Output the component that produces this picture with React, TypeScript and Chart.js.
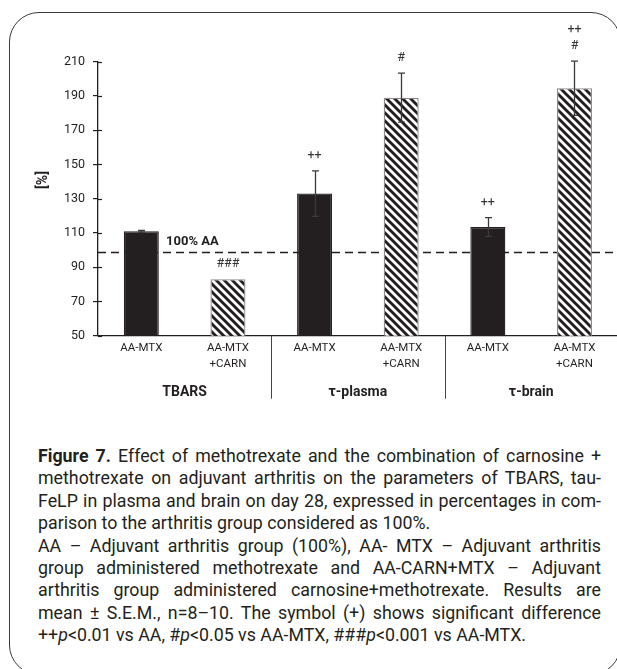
import React, { useEffect, useRef } from "react";
import { Chart, registerables } from "chart.js";

Chart.register(...registerables);

// ---- data ----
const categories: string[][] = [
  ["AA-MTX"],
  ["AA-MTX", "+CARN"],
  ["AA-MTX"],
  ["AA-MTX", "+CARN"],
  ["AA-MTX"],
  ["AA-MTX", "+CARN"],
];
const values = [111, 83, 133, 189, 113.5, 194.5];
const errors = [0.5, 0, 13.3, 14.3, 5.5, 15.8];
const markers: string[][] = [[], ["###"], ["++"], ["#"], ["++"], ["++", "#"]];
const groups = ["TBARS", "τ-plasma", "τ-brain"];
const yMin = 50;
const yMax = 210;
const yStep = 20;
const referenceValue = 98.8;
const referenceLabel = "100% AA";
const yTitle = "[%]";

const INK = "#231f20";
const FONT = "Roboto, 'Open Sans', sans-serif";

function makeHatch(): CanvasPattern | string {
  const c = document.createElement("canvas");
  const s = 8;
  c.width = s;
  c.height = s;
  const g = c.getContext("2d");
  if (!g) return "#fff";
  g.fillStyle = "#fff";
  g.fillRect(0, 0, s, s);
  g.strokeStyle = INK;
  g.lineWidth = 2.9;
  for (let k = -1; k <= 1; k++) {
    g.beginPath();
    g.moveTo(-s, -s + k * s);
    g.lineTo(2 * s, 2 * s + k * s);
    g.stroke();
  }
  return g.createPattern(c, "repeat") || "#fff";
}

const overlay = {
  id: "overlay",
  beforeDatasetsDraw(chart: any) {
    const { ctx, chartArea: a, scales } = chart;
    const py = Math.round(scales.y.getPixelForValue(referenceValue)) + 0.5;
    ctx.save();
    ctx.strokeStyle = INK;
    ctx.lineWidth = 1.5;
    ctx.setLineDash([8, 5]);
    ctx.beginPath();
    ctx.moveTo(a.left, py);
    ctx.lineTo(a.right, py);
    ctx.stroke();
    ctx.setLineDash([]);
    ctx.fillStyle = INK;
    ctx.font = `bold 13px ${FONT}`;
    ctx.textAlign = "left";
    ctx.textBaseline = "alphabetic";
    ctx.fillText(referenceLabel, a.left + 68, py - 8);
    ctx.restore();
  },
  afterDatasetsDraw(chart: any) {
    const { ctx, scales } = chart;
    const y = scales.y;
    const meta = chart.getDatasetMeta(0);
    ctx.save();
    meta.data.forEach((bar: any, i: number) => {
      const x = Math.round(bar.x) + 0.5;
      const top = y.getPixelForValue(values[i] + errors[i]);
      const bot = y.getPixelForValue(values[i] - errors[i]);
      ctx.strokeStyle = "#3a3a3a";
      ctx.lineWidth = 1.3;
      if (errors[i] > 0) {
        ctx.beginPath();
        ctx.moveTo(x, top);
        ctx.lineTo(x, bot);
        ctx.moveTo(x - 3.5, top);
        ctx.lineTo(x + 3.5, top);
        ctx.moveTo(x - 3.5, bot);
        ctx.lineTo(x + 3.5, bot);
        ctx.stroke();
      }
      const m = markers[i];
      ctx.fillStyle = "#333";
      ctx.font = `12.5px ${FONT}`;
      ctx.textAlign = "center";
      ctx.textBaseline = "middle";
      for (let k = 0; k < m.length; k++) {
        const line = m[m.length - 1 - k];
        ctx.fillText(line, bar.x, top - 15 - k * 16);
      }
    });
    ctx.restore();
  },
  afterDraw(chart: any) {
    const { ctx, chartArea: a, scales } = chart;
    const x = scales.x;
    const y = scales.y;
    ctx.save();
    ctx.strokeStyle = INK;
    ctx.lineWidth = 1.2;
    for (let v = yMin; v <= yMax; v += yStep) {
      const py = Math.round(y.getPixelForValue(v)) + 0.5;
      ctx.beginPath();
      ctx.moveTo(a.left, py);
      ctx.lineTo(a.left + 4, py);
      ctx.stroke();
    }
    ctx.strokeStyle = "#444";
    ctx.lineWidth = 1;
    for (let gi = 1; gi < groups.length; gi++) {
      const px = Math.round((x.getPixelForValue(gi * 2 - 1) + x.getPixelForValue(gi * 2)) / 2) + 0.5;
      ctx.beginPath();
      ctx.moveTo(px, a.bottom);
      ctx.lineTo(px, a.bottom + 63);
      ctx.stroke();
    }
    ctx.fillStyle = INK;
    ctx.font = `bold 14px ${FONT}`;
    ctx.textAlign = "center";
    ctx.textBaseline = "middle";
    groups.forEach((g, gi) => {
      const cx = (x.getPixelForValue(gi * 2) + x.getPixelForValue(gi * 2 + 1)) / 2;
      ctx.fillText(g, cx, a.bottom + 57);
    });
    ctx.translate(43, 180);
    ctx.rotate(-Math.PI / 2);
    ctx.font = `bold 14px ${FONT}`;
    ctx.fillText(yTitle, 0, 0);
    ctx.restore();
  },
};

function ChartCanvas() {
  const ref = useRef<HTMLCanvasElement | null>(null);
  useEffect(() => {
    if (!ref.current) return;
    const hatch = makeHatch();
    const chart = new Chart(ref.current, {
      type: "bar",
      data: {
        labels: categories,
        datasets: [
          {
            data: values,
            backgroundColor: values.map((_, i) => (i % 2 === 0 ? INK : hatch)) as any,
            borderColor: values.map((_, i) => (i % 2 === 0 ? INK : "#8a8a8a")),
            borderWidth: 1.3,
            categoryPercentage: 1,
            barPercentage: 0.404,
          },
        ],
      },
      options: {
        responsive: false,
        devicePixelRatio: 1,
        animation: false,
        layout: { padding: { top: 61.7, right: 7.2, left: 0, bottom: 0 } },
        plugins: { legend: { display: false }, tooltip: { enabled: false } },
        scales: {
          x: {
            grid: { display: false, drawTicks: false },
            border: { display: true, color: INK, width: 1.3 },
            ticks: {
              color: INK,
              font: { family: FONT, size: 11.5, lineHeight: 1.43 },
              padding: 4,
              maxRotation: 0,
              autoSkip: false,
            },
            afterFit: (s: any) => {
              s.height = 84.3;
            },
          },
          y: {
            min: yMin,
            max: yMax,
            grid: { drawOnChartArea: false, tickLength: 5, color: INK, lineWidth: 1.2 },
            border: { display: true, color: INK, width: 1.3 },
            ticks: {
              stepSize: yStep,
              color: INK,
              font: { family: FONT, size: 12.5 },
              padding: 8,
            },
            afterFit: (s: any) => {
              s.width = 98;
            },
          },
        },
      },
      plugins: [overlay],
    });
    return () => chart.destroy();
  }, []);
  return (
    <canvas
      ref={ref}
      width={625}
      height={420}
      style={{ position: "absolute", left: 0, top: 0, width: 625, height: 420 }}
    />
  );
}

const just: React.CSSProperties = { textAlign: "justify", textAlignLast: "justify", height: 22.4 };
const left: React.CSSProperties = { textAlign: "left", height: 22.4 };

export default function App() {
  return (
    <div
      style={{
        position: "absolute",
        left: 0,
        top: 0,
        width: 617,
        height: 669,
        overflow: "hidden",
        background: "#fff",
      }}
    >
      <div
        style={{
          position: "absolute",
          left: 9,
          top: 12,
          width: 612,
          height: 663,
          border: "1.4px solid #3a3a3a",
          borderRadius: 30,
          boxSizing: "border-box",
        }}
      />
      <ChartCanvas />
      <div
        style={{
          position: "absolute",
          left: 38,
          top: 445,
          width: 563,
          fontFamily: FONT,
          fontSize: 17.8,
          lineHeight: "22.4px",
          color: INK,
        }}
      >
        <div style={just}>
          <b>Figure 7.</b> Effect of methotrexate and the combination of carnosine +
        </div>
        <div style={just}>methotrexate on adjuvant arthritis on the parameters of TBARS, tau-</div>
        <div style={just}>FeLP in plasma and brain on day 28, expressed in percentages in com-</div>
        <div style={left}>parison to the arthritis group considered as 100%.</div>
        <div style={just}>AA – Adjuvant arthritis group (100%), AA- MTX – Adjuvant arthritis</div>
        <div style={just}>group administered methotrexate and AA-CARN+MTX – Adjuvant</div>
        <div style={just}>arthritis group administered carnosine+methotrexate. Results are</div>
        <div style={just}>mean ± S.E.M., n=8–10. The symbol (+) shows significant difference</div>
        <div style={left}>
          ++<i>p</i>&lt;0.01 vs AA, #<i>p</i>&lt;0.05 vs AA-MTX, ###<i>p</i>&lt;0.001 vs AA-MTX.
        </div>
      </div>
    </div>
  );
}
